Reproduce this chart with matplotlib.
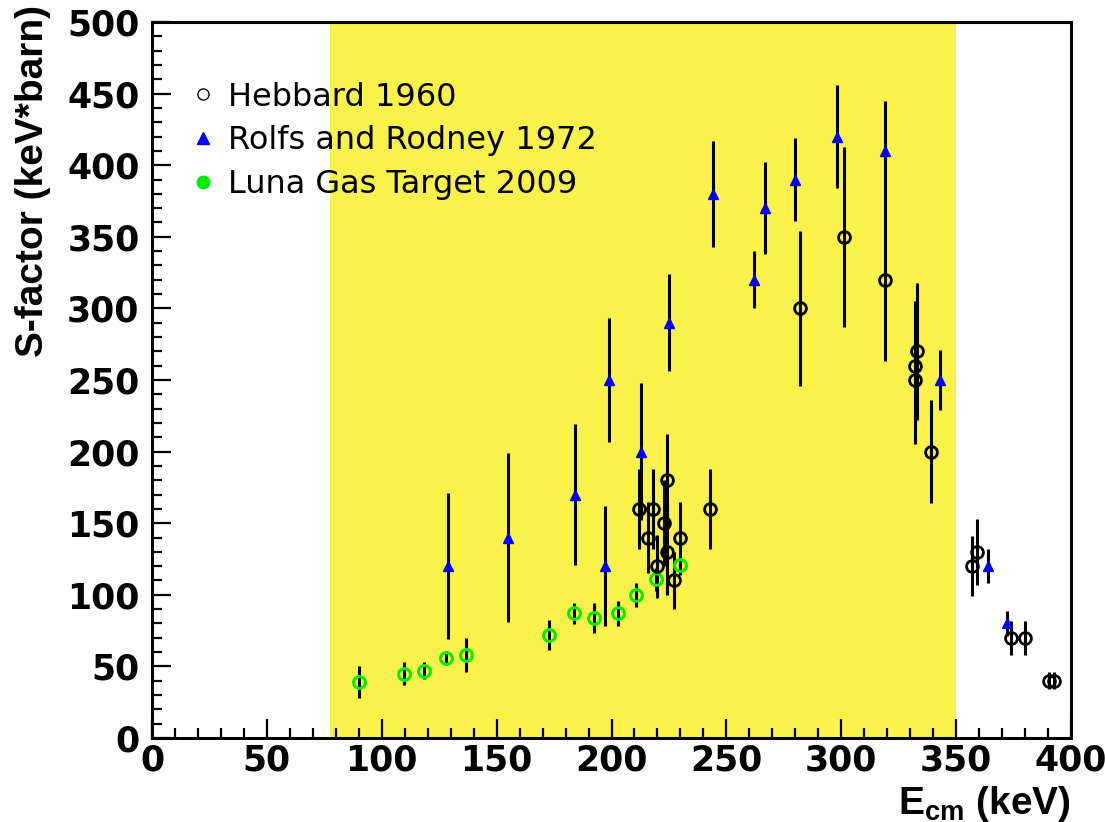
import matplotlib
matplotlib.use('Agg')
import matplotlib.pyplot as plt
from matplotlib.lines import Line2D
from matplotlib.ticker import MultipleLocator

# Hebbard 1960
hebbard_E = [212, 218, 216, 224, 223, 224, 220, 227, 230, 243, 282, 301, 319,
             333, 332, 332, 339, 357, 359, 374, 380, 390.5, 392.5]
hebbard_S = [160, 160, 140, 180, 150, 130, 120, 110, 140, 160, 300, 350, 320,
             270, 260, 250, 200, 120, 130, 70, 70, 40, 40]
hebbard_err = [28, 28, 25, 32, 30, 30, 22, 20, 25, 28, 54, 63, 57,
               48, 45, 45, 36, 21, 23, 12, 12, 6, 6]

# Rolfs and Rodney 1972
rolfs_E = [129, 155, 184, 197, 199, 213, 225, 244, 262, 267, 280, 298, 319, 343, 364, 372]
rolfs_S = [120, 140, 170, 120, 250, 200, 290, 380, 320, 370, 390, 420, 410, 250, 120, 80]
rolfs_err = [51, 59, 49, 42, 43, 48, 34, 37, 20, 32, 29, 36, 35, 21, 12, 9]

# Luna gas target 2009
luna_E = [90, 109.5, 118.5, 128, 136.5, 173, 183.5, 192.5, 203, 210.5, 219.5, 230]
luna_S = [39, 45, 47, 56, 58, 72, 87, 84, 87, 100, 111, 121]
luna_err = [11, 8, 6, 5, 12, 10.5, 7.5, 10.5, 9, 8.5, 8, 7]

band = (77.5, 350)

plt.rcParams['mathtext.fontset'] = 'custom'
plt.rcParams['mathtext.rm'] = 'Liberation Sans:bold'
plt.rcParams['mathtext.bf'] = 'Liberation Sans:bold'

fig = plt.figure(figsize=(11.05, 8.22), dpi=100)
ax = fig.add_axes([152 / 1105, 1 - 738 / 822, 919 / 1105, 716 / 822])

ax.axvspan(band[0], band[1], color='#f8f24a', lw=0, zorder=0)

ax.errorbar(luna_E, luna_S, yerr=luna_err, fmt='none', ecolor='black', elinewidth=2.2, zorder=2)
ax.errorbar(rolfs_E, rolfs_S, yerr=rolfs_err, fmt='none', ecolor='black', elinewidth=2.2, zorder=2)
ax.errorbar(hebbard_E, hebbard_S, yerr=hebbard_err, fmt='none', ecolor='black', elinewidth=2.2, zorder=2)

ax.plot(luna_E, luna_S, 'o', ms=8.5, mfc='none', mec='#00ee00', mew=2.2, zorder=3)
ax.plot(rolfs_E, rolfs_S, '^', ms=7.5, mfc='#0000ff', mec='#0000ff', zorder=3)
ax.plot(hebbard_E, hebbard_S, 'o', ms=8.5, mfc='none', mec='black', mew=2.0, zorder=4)

ax.set_xlim(0, 400)
ax.set_ylim(0, 500)
ax.xaxis.set_major_locator(MultipleLocator(50))
ax.xaxis.set_minor_locator(MultipleLocator(10))
ax.yaxis.set_major_locator(MultipleLocator(50))
ax.yaxis.set_minor_locator(MultipleLocator(10))
ax.tick_params(which='both', direction='in', width=1.6, top=False, right=False)
ax.tick_params(which='major', length=14)
ax.tick_params(which='minor', length=7)
ax.tick_params(axis='x', which='major', pad=4)
ax.tick_params(axis='y', which='major', pad=9)
for lab in ax.get_xticklabels() + ax.get_yticklabels():
    lab.set_fontfamily('DejaVu Sans')
    lab.set_fontweight('bold')
    lab.set_fontsize(25)
for sp in ax.spines.values():
    sp.set_linewidth(2.2)

fig.text(33 / 1105, 1 - 5 / 822, 'S-factor (keV*barn)', rotation=90, ha='center', va='top',
         fontsize=28, fontweight='bold', family='Liberation Sans')
fig.text(1071 / 1105, 1 - 814 / 822, r'$\mathrm{E_{cm}}$ (keV)', ha='right', va='baseline',
         fontsize=28, fontweight='bold', family='Liberation Sans')

handles = [
    Line2D([], [], ls='none', marker='o', ms=8, mfc='none', mec='black', mew=1.0),
    Line2D([], [], ls='none', marker='^', ms=9, mfc='#0000ff', mec='#0000ff'),
    Line2D([], [], ls='none', marker='o', ms=9, mfc='#00ee00', mec='#00ee00'),
]
labels = ['Hebbard 1960', 'Rolfs and Rodney 1972', 'Luna Gas Target 2009']
ax.legend(handles, labels, loc='upper left', bbox_to_anchor=(0.007, 0.957), frameon=False,
          handlelength=1.0, handletextpad=0.28, labelspacing=0.4,
          prop={'family': 'DejaVu Sans', 'size': 23})

fig.savefig('out.png', dpi=100)
